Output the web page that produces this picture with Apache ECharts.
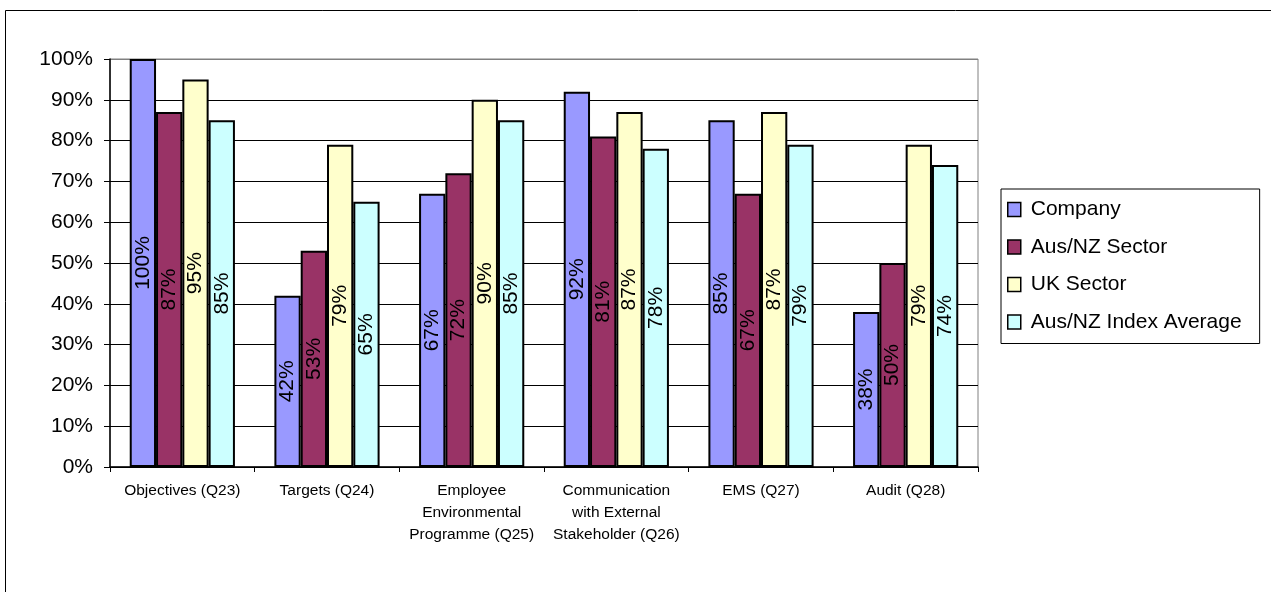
<!DOCTYPE html>
<html>
<head>
<meta charset="utf-8">
<script src="https://cdn.jsdelivr.net/npm/echarts@6/dist/echarts.min.js"></script>
<style>
  html, body { margin: 0; padding: 0; background: #fff; }
  #chart { width: 1271px; height: 592px; }
</style>
</head>
<body>
<div id="chart"></div>
<script>
// Environmental management survey results by question
const categories = [
  'Objectives (Q23)',
  'Targets (Q24)',
  'Employee\nEnvironmental\nProgramme (Q25)',
  'Communication\nwith External\nStakeholder (Q26)',
  'EMS (Q27)',
  'Audit (Q28)'
];
const seriesNames = ['Company', 'Aus/NZ Sector', 'UK Sector', 'Aus/NZ Index Average'];
const company     = [100, 42, 67, 92, 85, 38];
const ausNzSector = [87, 53, 72, 81, 67, 50];
const ukSector    = [95, 79, 90, 87, 87, 79];
const indexAvg    = [85, 65, 85, 78, 79, 74];
const yTicks = [0, 10, 20, 30, 40, 50, 60, 70, 80, 90, 100];

const colors = ['#9999FF', '#993366', '#FFFFCC', '#CCFFFF'];
const values = [company, ausNzSector, ukSector, indexAvg];
const font = 'Arial, "Liberation Sans", sans-serif';

// grid lines are black, the top edge of the plot is grey
const splitColors = yTicks.map((t, i) => i === yTicks.length - 1 ? '#808080' : '#000');

const chart = echarts.init(document.getElementById('chart'));
chart.setOption({
  animation: false,
  backgroundColor: '#fff',
  textStyle: { fontFamily: font },
  graphic: [{
    type: 'rect',
    shape: { x: 5.5, y: 10.5, width: 1300, height: 600 },
    style: { fill: 'none', stroke: '#000', lineWidth: 1 },
    z: 0, silent: true
  }],
  grid: {
    left: 110, top: 59, right: 293, bottom: 125,
    show: true, borderColor: '#808080', borderWidth: 1, backgroundColor: 'transparent'
  },
  legend: {
    orient: 'vertical',
    left: 1001, top: 189,
    padding: [10, 18, 11, 6],
    borderColor: '#000', borderWidth: 1,
    itemWidth: 13, itemHeight: 14, itemGap: 16.5,
    icon: 'rect',
    textStyle: { fontSize: 21, color: '#000', fontFamily: font, padding: [0, 0, 0, 5] },
    itemStyle: { borderColor: '#000', borderWidth: 1.5 },
    data: seriesNames
  },
  xAxis: {
    type: 'category',
    data: categories,
    axisLine: { lineStyle: { color: '#000', width: 1.5 } },
    axisTick: { show: true, length: 5, lineStyle: { color: '#000' } },
    axisLabel: { fontSize: 15.5, color: '#000', lineHeight: 22, margin: 13, interval: 0, fontFamily: font }
  },
  yAxis: {
    type: 'value',
    min: 0, max: 100, interval: 10,
    axisLine: { show: true, lineStyle: { color: '#000', width: 1.5 } },
    axisTick: { show: true, length: 6, lineStyle: { color: '#000' } },
    axisLabel: { fontSize: 21, color: '#000', margin: 17, formatter: '{value}%', fontFamily: font },
    splitLine: { show: true, lineStyle: { color: splitColors, width: 1 } }
  },
  series: seriesNames.map((name, i) => ({
    name: name,
    type: 'bar',
    data: values[i],
    barWidth: 26.3,
    barGap: '0%',
    itemStyle: { color: colors[i], borderColor: '#000', borderWidth: 2 },
    label: {
      show: true,
      position: 'inside',
      rotate: 90,
      formatter: '{c}%',
      fontSize: 21,
      color: '#000',
      fontFamily: font
    }
  }))
});
</script>
</body>
</html>
